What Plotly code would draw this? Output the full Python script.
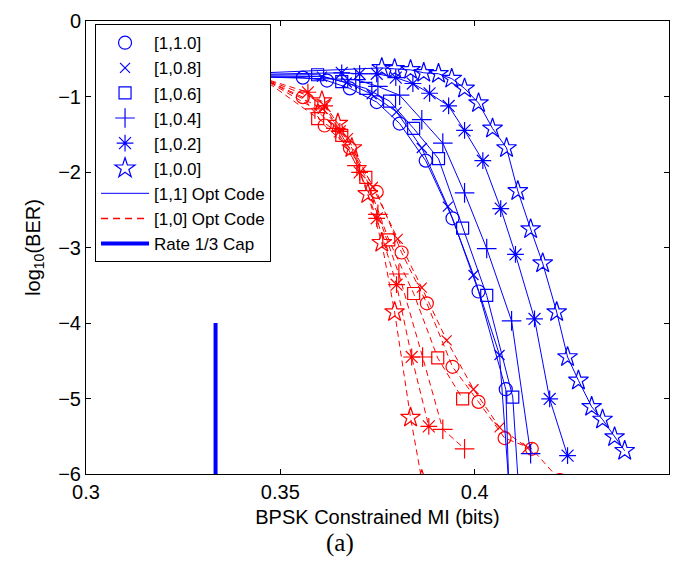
import plotly.graph_objects as go

BLUE = "rgb(0,0,255)"
RED = "rgb(255,0,0)"

# ---- data ----
blue_start = (0.33, -0.72)
red_start = (0.345, -0.75)

# [1,1] Opt Code (blue, solid)
b_circ_x = [0.3558, 0.3620, 0.3679, 0.3748, 0.3807, 0.3874, 0.3943, 0.4010, 0.4080, 0.4093]
b_circ_y = [-0.750, -0.789, -0.893, -1.074, -1.358, -1.850, -2.613, -3.583, -4.877, -7.0]
b_x08_x = [0.3607, 0.3671, 0.3735, 0.3799, 0.3864, 0.3931, 0.3997, 0.4064, 0.4100]
b_x08_y = [-0.737, -0.815, -0.970, -1.203, -1.682, -2.458, -3.364, -4.424, -7.0]
b_sq_x = [0.3596, 0.3658, 0.3720, 0.3781, 0.3843, 0.3907, 0.3969, 0.4031, 0.4098, 0.4123]
b_sq_y = [-0.712, -0.802, -0.893, -1.061, -1.423, -1.824, -2.743, -3.635, -4.981, -7.0]
b_pl_x = [0.3694, 0.3751, 0.3807, 0.3864, 0.3918, 0.3974, 0.4031, 0.4095, 0.4144]
b_pl_y = [-0.776, -0.867, -0.983, -1.307, -1.617, -2.277, -3.014, -3.972, -5.731]
b_as_x = [0.3658, 0.3704, 0.3748, 0.3797, 0.3841, 0.3884, 0.3933, 0.3974, 0.4021, 0.4067,
          0.4105, 0.4154, 0.4193, 0.4239]
b_as_y = [-0.686, -0.699, -0.699, -0.750, -0.828, -0.957, -1.125, -1.449, -1.850, -2.484,
          -3.092, -3.946, -5.006, -5.757]
b_st_x = [0.3761, 0.3794, 0.3835, 0.3869, 0.3907, 0.3941, 0.3974, 0.4010, 0.4046, 0.4082,
          0.4111, 0.4144, 0.4175, 0.4211, 0.4239, 0.4267, 0.4301, 0.4329, 0.4360, 0.4386]
b_st_y = [-0.621, -0.634, -0.647, -0.686, -0.699, -0.763, -0.893, -1.087, -1.423, -1.682,
          -2.251, -2.756, -3.208, -3.855, -4.450, -4.761, -5.110, -5.278, -5.511, -5.692]

# [1,0] Opt Code (red, dashed)
r_circ_x = [0.3558, 0.3614, 0.3679, 0.3748, 0.3812, 0.3877, 0.3943, 0.4010, 0.4077, 0.4147, 0.4219]
r_circ_y = [-1.009, -1.384, -1.682, -2.264, -3.066, -3.739, -4.580, -5.045, -5.524, -5.666, -6.080]
r_x08_x = [0.3609, 0.3674, 0.3738, 0.3802, 0.3864, 0.3928, 0.3997, 0.4064, 0.4136]
r_x08_y = [-1.164, -1.552, -2.199, -2.885, -3.532, -4.230, -4.877, -5.382, -5.653]
r_sq_x = [0.3596, 0.3658, 0.3720, 0.3779, 0.3843, 0.3905, 0.3969]
r_sq_y = [-1.294, -1.514, -2.070, -2.898, -3.609, -4.463, -5.006]
r_pl_x = [0.3589, 0.3643, 0.3697, 0.3751, 0.3805, 0.3866, 0.3918, 0.3974]
r_pl_y = [-1.164, -1.423, -1.915, -2.561, -3.351, -4.450, -5.408, -5.666]
r_as_x = [0.3571, 0.3614, 0.3653, 0.3704, 0.3748, 0.3799, 0.3838, 0.3882]
r_as_y = [-0.944, -1.125, -1.462, -2.005, -2.613, -3.493, -4.450, -5.369]
r_st_x = [0.3607, 0.3648, 0.3684, 0.3725, 0.3761, 0.3794, 0.3835, 0.3864]
r_st_y = [-1.061, -1.358, -1.682, -2.290, -2.937, -3.855, -5.252, -6.080]

cap_x = [1 / 3, 1 / 3]
cap_y = [-6, -4]

legend_names = ["[1,1.0]", "[1,0.8]", "[1,0.6]", "[1,0.4]", "[1,0.2]", "[1,0.0]"]
symbols = ["circle-open", "x-thin-open", "square-open", "cross-thin-open", "asterisk-open", "star-open"]
sizes = [13, 10, 12, 14, 14, 15]

x_ticks = [0.3, 0.35, 0.4]
x_ticklabels = ["0.3", "0.35", "0.4"]
y_ticks = [-6, -5, -4, -3, -2, -1, 0]

blue_series = [(b_circ_x, b_circ_y), (b_x08_x, b_x08_y), (b_sq_x, b_sq_y),
               (b_pl_x, b_pl_y), (b_as_x, b_as_y), (b_st_x, b_st_y)]
red_series = [(r_circ_x, r_circ_y), (r_x08_x, r_x08_y), (r_sq_x, r_sq_y),
              (r_pl_x, r_pl_y), (r_as_x, r_as_y), (r_st_x, r_st_y)]

FONT = "Liberation Sans, Arial"

fig = go.Figure()

for (xs, ys), sym, sz in zip(red_series, symbols, sizes):
    fig.add_trace(go.Scatter(x=[red_start[0]] + xs, y=[red_start[1]] + ys, mode="lines",
                             line=dict(color=RED, width=1, dash="6px,4px"), showlegend=False))
    fig.add_trace(go.Scatter(x=xs, y=ys, mode="markers",
                             marker=dict(symbol=sym, size=sz, color=RED, line=dict(color=RED, width=1.2)),
                             showlegend=False))

for (xs, ys), sym, sz in zip(blue_series, symbols, sizes):
    fig.add_trace(go.Scatter(x=[blue_start[0]] + xs, y=[blue_start[1]] + ys, mode="lines",
                             line=dict(color=BLUE, width=1), showlegend=False))
    fig.add_trace(go.Scatter(x=xs, y=ys, mode="markers",
                             marker=dict(symbol=sym, size=sz, color=BLUE, line=dict(color=BLUE, width=1.2)),
                             showlegend=False))

fig.add_trace(go.Scatter(x=cap_x, y=cap_y, mode="lines", line=dict(color=BLUE, width=4), showlegend=False))

# legend-only entries
for name, sym, sz in zip(legend_names, symbols, sizes):
    fig.add_trace(go.Scatter(x=[None], y=[None], mode="markers", name=name,
                             marker=dict(symbol=sym, size=sz, color=BLUE, line=dict(color=BLUE, width=1.2))))
fig.add_trace(go.Scatter(x=[None], y=[None], mode="lines", name="[1,1] Opt Code",
                         line=dict(color=BLUE, width=1)))
fig.add_trace(go.Scatter(x=[None], y=[None], mode="lines", name="[1,0] Opt Code",
                         line=dict(color=RED, width=1.5, dash="7px,5px")))
fig.add_trace(go.Scatter(x=[None], y=[None], mode="lines", name="Rate 1/3 Cap",
                         line=dict(color=BLUE, width=4)))

axis_common = dict(showline=True, linecolor="black", linewidth=1, mirror="ticks",
                   ticks="inside", ticklen=5, tickcolor="black", showgrid=False, zeroline=False,
                   ticklabeloverflow="allow",
                   tickfont=dict(family=FONT, size=20, color="black"))

fig.update_layout(
    width=689, height=564,
    margin=dict(l=86, r=20, t=10, b=90),
    paper_bgcolor="white", plot_bgcolor="white",
    font=dict(family=FONT, size=20, color="black"),
    xaxis=dict(range=[0.3, 0.45], tickvals=x_ticks, ticktext=x_ticklabels,
               title=dict(text="BPSK Constrained MI (bits)", font=dict(size=20), standoff=7),
               **axis_common),
    yaxis=dict(range=[-6, 0], tickvals=y_ticks,
               title=dict(text="log<sub>10</sub>(BER)", font=dict(size=20), standoff=12),
               **axis_common),
    legend=dict(x=0.0155, y=0.993, xanchor="left", yanchor="top",
                bgcolor="white", bordercolor="black", borderwidth=1,
                font=dict(family=FONT, size=17, color="black"),
                itemwidth=48, tracegroupgap=0),
    annotations=[dict(text="(a)", x=0.4357, y=-0.153, xref="paper", yref="paper",
                      xanchor="center", yanchor="middle", showarrow=False,
                      font=dict(family="Liberation Serif, Times New Roman", size=25, color="black"))],
)

fig.write_html("out.html", config={"displayModeBar": False},
               post_script="document.body.style.margin='0';")
